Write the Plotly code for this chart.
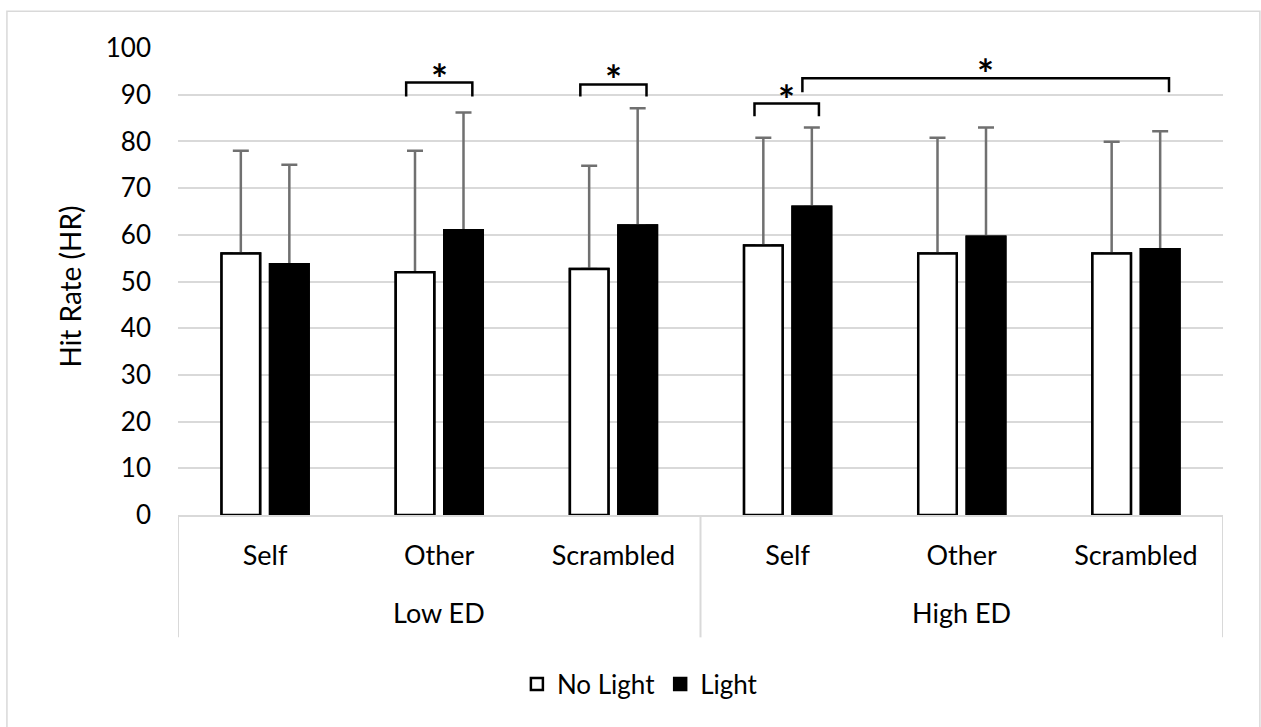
import plotly.graph_objects as go

# Hit rate by condition, split by ED level
conditions = ["Self", "Other", "Scrambled", "Self", "Other", "Scrambled"]
groups = ["Low ED", "High ED"]
no_light = [56, 52, 52.7, 57.7, 56, 56]
light = [53.7, 61, 62, 66, 59.6, 56.9]
no_light_sd = [22, 26, 22.1, 23.1, 24.8, 23.9]
light_sd = [21.3, 25.2, 25.1, 17, 23.4, 25.3]
y_ticks = list(range(0, 101, 10))

# significance brackets: (x start, x end, top y, leg bottom y)
brackets = [
    (0.81, 1.19, 92.6, 89.6),
    (1.81, 2.19, 92.2, 89.6),
    (2.81, 3.18, 88.1, 85.4),
    (3.085, 5.19, 93.5, 90.5),
]

FONT = "Lato"
GRID = "#d9d9d9"
ERR = "#707070"

x = list(range(len(conditions)))

fig = go.Figure()

def err(sd):
    return dict(type="data", symmetric=False, array=sd, arrayminus=[0] * len(sd),
                color=ERR, thickness=2.5, width=8)

fig.add_trace(go.Bar(x=x, y=no_light, name="No Light", offsetgroup="nl",
                     marker=dict(color="white", line=dict(color="black", width=2.5)),
                     error_y=err(no_light_sd)))
fig.add_trace(go.Bar(x=x, y=light, name="Light", offsetgroup="l",
                     marker=dict(color="black", line=dict(color="black", width=2.5)),
                     error_y=err(light_sd)))
# redraw the bars on top so the error-bar base sits under the bar outline
fig.add_trace(go.Bar(x=x, y=no_light, offsetgroup="nl", showlegend=False, hoverinfo="skip",
                     marker=dict(color="white", line=dict(color="black", width=2.5))))
fig.add_trace(go.Bar(x=x, y=light, offsetgroup="l", showlegend=False, hoverinfo="skip",
                     marker=dict(color="black", line=dict(color="black", width=2.5))))

shapes = []
for x0, x1, top, leg in brackets:
    shapes.append(dict(type="path", xref="x", yref="y",
                       path=f"M {x0},{leg} L {x0},{top} L {x1},{top} L {x1},{leg}",
                       line=dict(color="black", width=2.5)))

# group separators under the category axis
for sx in (-0.5, 2.5, 5.5):
    shapes.append(dict(type="line", xref="x", yref="paper", x0=sx, x1=sx, y0=0, y1=-0.262,
                       line=dict(color=GRID, width=2)))

# chart frame
shapes.append(dict(type="rect", xref="paper", yref="paper", x0=-0.1637, x1=1.0353,
                   y0=-0.47, y1=1.0785, line=dict(color=GRID, width=1.5), layer="below"))

annotations = []
for x0, x1, top, leg in brackets:
    annotations.append(dict(x=(x0 + x1) / 2, y=top, xref="x", yref="y", text="<b>*</b>",
                            showarrow=False, yanchor="middle", yshift=4,
                            font=dict(family=FONT, size=40, color="black")))
for gi, g in enumerate(groups):
    annotations.append(dict(x=gi * 3 + 1, y=-0.208, xref="x", yref="paper", text=g,
                            showarrow=False, yanchor="middle",
                            font=dict(family=FONT, size=27, color="black")))
annotations.append(dict(x=-0.103, xanchor="center", y=0.49, yref="paper", xref="paper",
                        text="Hit Rate (HR)", textangle=-90, showarrow=False,
                        yanchor="middle", font=dict(family=FONT, size=28, color="black")))

fig.update_layout(
    width=1261, height=727,
    margin=dict(l=178, r=38, t=48, b=212),
    paper_bgcolor="white", plot_bgcolor="white",
    barmode="group", bargap=0.443, bargroupgap=0.206,
    font=dict(family=FONT, size=26, color="black"),
    showlegend=True,
    legend=dict(orientation="h", x=0.442, xanchor="center", y=-0.362, yanchor="middle",
                font=dict(family=FONT, size=26, color="black"), itemclick=False),
    shapes=shapes, annotations=annotations,
    xaxis=dict(range=[-0.5, 5.5], tickvals=x, ticktext=conditions, showgrid=False,
               zeroline=False, showline=True, linecolor=GRID, linewidth=2, ticks="",
               ticklabelstandoff=16, tickfont=dict(family=FONT, size=27, color="black")),
    yaxis=dict(range=[0, 100], tickvals=y_ticks, showgrid=True, gridcolor=GRID, gridwidth=2,
               zeroline=False, showline=False, ticks="", ticklabelstandoff=26,
               tickfont=dict(family=FONT, size=26, color="black")),
)

fig.write_html("out.html")
